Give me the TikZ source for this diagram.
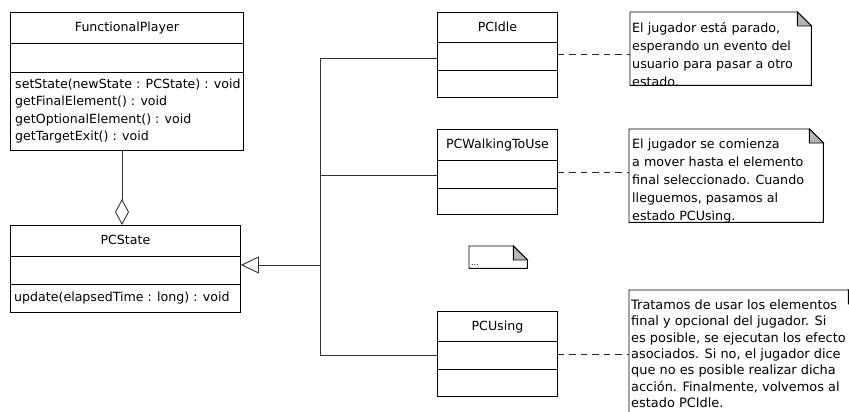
\documentclass[tikz,border=0pt]{standalone}
\usepackage{fontspec}
\setmainfont{DejaVu Sans}
\usetikzlibrary{arrows.meta}
\definecolor{foldgray}{HTML}{B4B4B4}
\newcommand\umlfont{\fontsize{12.6}{17.2}\selectfont}
\newcommand\dogear[1]{%
  \draw[noteline,fill=white] (#1.north west) -- ([xshift=-14pt]#1.north east) -- ([yshift=-14pt]#1.north east) -- (#1.south east) -- (#1.south west) -- cycle;
  \filldraw[noteline,fill=foldgray] ([xshift=-14pt]#1.north east) -- ([xshift=-14pt,yshift=-14pt]#1.north east) -- ([yshift=-14pt]#1.north east) -- cycle;}
\newcommand\dividers[3]{%
  \draw[divider] ([yshift=-#2pt]#1.north west) -- ([yshift=-#2pt]#1.north east);
  \draw[divider] ([yshift=-#3pt]#1.north west) -- ([yshift=-#3pt]#1.north east);}
\begin{document}
\begin{tikzpicture}[x=1pt,y=-1pt,
  cls/.style={draw=black,line width=0.9pt,fill=white,rectangle,inner sep=0pt,anchor=north west},
  divider/.style={draw=black,line width=0.9pt},
  ttl/.style={font=\umlfont,inner sep=0pt,anchor=base},
  ops/.style={font=\umlfont,inner sep=0pt,anchor=north west,align=left},
  notebox/.style={rectangle,inner sep=0pt,anchor=north west},
  noteline/.style={draw=black,line width=0.9pt},
  notetxt/.style={inner sep=0pt,anchor=north west,align=left},
  conn/.style={draw=black!80,line width=0.9pt},
  dashconn/.style={draw=black!85,line width=0.9pt,dash pattern=on 6.5pt off 5pt},
]
\useasboundingbox (0,0) rectangle (849,412);
\clip (0,0) rectangle (849,412);
\fill[white] (0,0) rectangle (849,412);

% classes
\node[cls,minimum width=233pt,minimum height=138pt] (fp) at (10,12) {};
\dividers{fp}{31}{60}
\node[ttl] (fpt) at ([yshift=-20pt]fp.north) {FunctionalPlayer};
\node[ops] (fpo) at ([xshift=5pt,yshift=-67pt]fp.north west)
  {setState(newState : PCState) : void\\getFinalElement() : void\\getOptionalElement() : void\\getTargetExit() : void};

\node[cls,minimum width=230pt,minimum height=87pt] (pcstate) at (10,225) {};
\dividers{pcstate}{31}{59}
\node[ttl] (pcst) at ([yshift=-19.5pt]pcstate.north) {PCState};
\node[ops] (pcso) at ([xshift=4pt,yshift=-66.5pt]pcstate.north west) {update(elapsedTime : long) : void};

\node[cls,minimum width=120pt,minimum height=85pt] (pcidle) at (437,12) {};
\dividers{pcidle}{30}{58}
\node[ttl] (pcit) at ([yshift=-19.5pt]pcidle.north) {PCIdle};

\node[cls,minimum width=120pt,minimum height=85pt] (pcwalk) at (437,129) {};
\dividers{pcwalk}{31}{59}
\node[ttl] (pcwt) at ([yshift=-19pt]pcwalk.north) {PCWalkingToUse};

\node[cls,minimum width=120pt,minimum height=85pt] (pcusing) at (437,311) {};
\dividers{pcusing}{30}{58}
\node[ttl] (pcut) at ([yshift=-19.5pt]pcusing.north) {PCUsing};

% notes
\node[notebox,minimum width=181pt,minimum height=73pt] (n1) at (630,12) {};
\dogear{n1}
\node[notetxt,font=\fontsize{12.7}{18}\selectfont] (n1t) at ([xshift=2pt,yshift=-10pt]n1.north west)
  {El jugador está parado,\\esperando un evento del\\usuario para pasar a otro\\estado.};

\node[notebox,minimum width=194pt,minimum height=93pt] (n2) at (629,129) {};
\dogear{n2}
\node[notetxt,font=\fontsize{12.7}{17.8}\selectfont] (n2t) at ([xshift=3pt,yshift=-10pt]n2.north west)
  {El jugador se comienza\\a mover hasta el elemento\\final seleccionado. Cuando\\lleguemos, pasamos al\\estado PCUsing.};

\node[notebox,minimum width=58pt,minimum height=22pt] (n4) at (469,246) {};
\dogear{n4}
\node[notetxt,font=\fontsize{8}{10}\selectfont,anchor=base west] (n4t) at ([xshift=2pt,yshift=-19pt]n4.north west) {...};

\node[notebox,minimum width=233pt,minimum height=126pt] (n3) at (629,290) {};
\dogear{n3}
\node[notetxt,font=\fontsize{12.9}{16.3}\selectfont] (n3t) at ([xshift=2pt,yshift=-9.5pt]n3.north west)
  {Tratamos de usar los elementos\\final y opcional del jugador. Si\\es posible, se ejecutan los efecto\\asociados. Si no, el jugador dice\\que no es posible realizar dicha\\acción. Finalmente, volvemos al\\estado PCIdle.};

% connectors
\coordinate (t1) at (320,58);
\coordinate (t2) at (320,175);
\coordinate (t3) at (320,355);
\coordinate (tg) at (320,265);
\coordinate (ag) at (122,150);
\draw[conn] (pcidle.west |- t1) -- (t1) -- (t3) -- (pcusing.west |- t3);
\draw[conn] (t2) -- (pcwalk.west |- t2);
\draw[conn,-{Triangle[open,length=18pt,width=17pt,line width=0.9pt]}] (tg) -- (pcstate.east |- tg);
\draw[conn,-{Diamond[open,length=26pt,width=14pt,line width=0.9pt]}] (fp.south -| ag) -- (pcstate.north -| ag);

\draw[dashconn] (pcidle.east) -- (n1.west |- pcidle.east);
\draw[dashconn] (pcwalk.east) -- (n2.west |- pcwalk.east);
\draw[dashconn] (pcusing.east) -- (n3.west |- pcusing.east);
\end{tikzpicture}
\end{document}
